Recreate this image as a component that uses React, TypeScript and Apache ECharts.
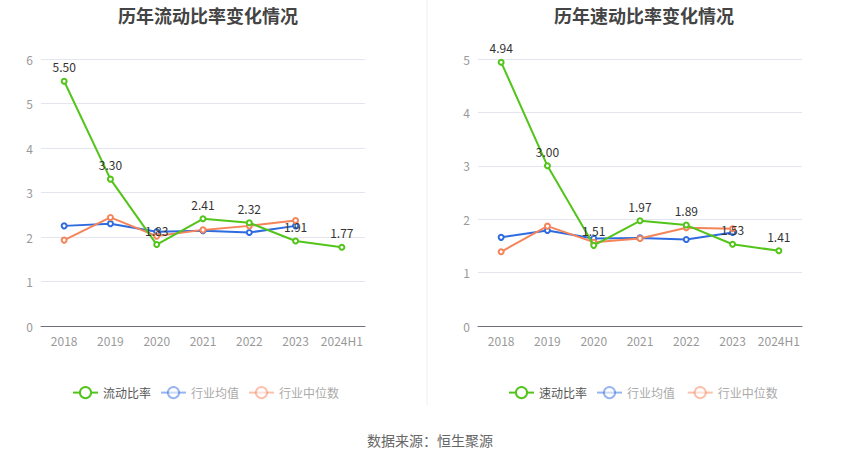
import React, { useEffect, useRef } from "react";
import * as echarts from "echarts";

const categories = ["2018", "2019", "2020", "2021", "2022", "2023", "2024H1"];
const currentRatio = [5.5, 3.3, 1.83, 2.41, 2.32, 1.91, 1.77];
const currentIndAvg = [2.25, 2.3, 2.12, 2.14, 2.1, 2.25];
const currentIndMed = [1.93, 2.44, 2.02, 2.16, 2.25, 2.37];
const quickRatio = [4.94, 3.0, 1.51, 1.97, 1.89, 1.53, 1.41];
const quickIndAvg = [1.66, 1.79, 1.64, 1.65, 1.62, 1.75];
const quickIndMed = [1.39, 1.87, 1.57, 1.64, 1.84, 1.82];

const GREEN = "#52c41a";
const BLUE = "#2f6be0";
const ORANGE = "#f5845a";
const FONT = "'Noto Sans CJK SC', 'Noto Sans', sans-serif";

export default function App() {
  const ref = useRef<HTMLDivElement>(null);
  useEffect(() => {
    document.body.style.margin = "0";
    const chart = echarts.init(ref.current!, null, { renderer: "svg" });
    const mkAxis = (gi: number, max: number) => ({
      x: {
        type: "category",
        gridIndex: gi,
        data: categories,
        axisLine: { lineStyle: { color: "#6e7079" } },
        axisTick: { alignWithLabel: true, lineStyle: { color: "#6e7079" } },
        axisLabel: { color: "#999", fontSize: 12, fontFamily: FONT, margin: 8, interval: 0 },
      },
      y: {
        type: "value",
        gridIndex: gi,
        min: 0,
        max,
        interval: 1,
        axisLine: { show: false },
        axisTick: { show: false },
        splitLine: { lineStyle: { color: "#e3e5f0" } },
        axisLabel: { color: "#999", fontSize: 12, fontFamily: FONT, margin: 8 },
      },
    });
    const a0 = mkAxis(0, 6);
    const a1 = mkAxis(1, 5);
    const mainSeries = (name: string, data: number[], idx: number) => ({
      name,
      type: "line",
      xAxisIndex: idx,
      yAxisIndex: idx,
      data,
      symbol: "emptyCircle",
      symbolSize: 5,
      lineStyle: { width: 2, color: GREEN },
      itemStyle: { color: GREEN },
      label: {
        show: true,
        position: "top",
        color: "#333",
        fontSize: 12,
        fontFamily: FONT,
        formatter: (p: any) => p.value.toFixed(2),
      },
      z: 3,
    });
    const indSeries = (name: string, data: number[], idx: number, color: string) => ({
      name,
      type: "line",
      xAxisIndex: idx,
      yAxisIndex: idx,
      data,
      symbol: "emptyCircle",
      symbolSize: 5,
      lineStyle: { width: 2, color },
      itemStyle: { color },
      z: 2,
    });
    const legendCommon = {
      top: 381,
      itemWidth: 25,
      itemHeight: 14,
      itemGap: 9,
      textStyle: { fontSize: 12, fontFamily: FONT, color: "#aaa" },
    };
    const titleStyle = { fontSize: 18, fontWeight: "bold", color: "#444", fontFamily: FONT };
    chart.setOption({
      animation: false,
      backgroundColor: "#fff",
      title: [
        { text: "历年流动比率变化情况", left: 203, textAlign: "center", top: 1, textStyle: titleStyle },
        { text: "历年速动比率变化情况", left: 639, textAlign: "center", top: 1, textStyle: titleStyle },
        {
          text: "数据来源：恒生聚源",
          left: 425,
          textAlign: "center",
          top: 428,
          textStyle: { fontSize: 14, fontWeight: "normal", color: "#666", fontFamily: FONT },
        },
      ],
      legend: [
        {
          ...legendCommon,
          left: 67,
          data: [
            { name: "流动比率", textStyle: { color: "#555" } },
            { name: "行业均值", itemStyle: { opacity: 0.5 }, lineStyle: { opacity: 0.5 } },
            { name: "行业中位数", itemStyle: { opacity: 0.5 }, lineStyle: { opacity: 0.5 } },
          ],
        },
        {
          ...legendCommon,
          left: 503,
          data: [
            { name: "速动比率", textStyle: { color: "#555" } },
            { name: "行业均值 ", itemStyle: { opacity: 0.5 }, lineStyle: { opacity: 0.5 } },
            { name: "行业中位数 ", itemStyle: { opacity: 0.5 }, lineStyle: { opacity: 0.5 } },
          ],
        },
      ],
      grid: [
        { left: 41, top: 59, width: 324, height: 267 },
        { left: 478, top: 59, width: 324, height: 267 },
      ],
      xAxis: [a0.x, a1.x],
      yAxis: [a0.y, a1.y],
      graphic: [
        {
          type: "line",
          shape: { x1: 427, y1: 0, x2: 427, y2: 405 },
          style: { stroke: "#eeeeee", lineWidth: 1 },
        },
      ],
      series: [
        mainSeries("流动比率", currentRatio, 0),
        indSeries("行业均值", currentIndAvg, 0, BLUE),
        indSeries("行业中位数", currentIndMed, 0, ORANGE),
        mainSeries("速动比率", quickRatio, 1),
        indSeries("行业均值 ", quickIndAvg, 1, BLUE),
        indSeries("行业中位数 ", quickIndMed, 1, ORANGE),
      ],
    });
    return () => chart.dispose();
  }, []);
  return <div ref={ref} style={{ width: 850, height: 459 }} />;
}
